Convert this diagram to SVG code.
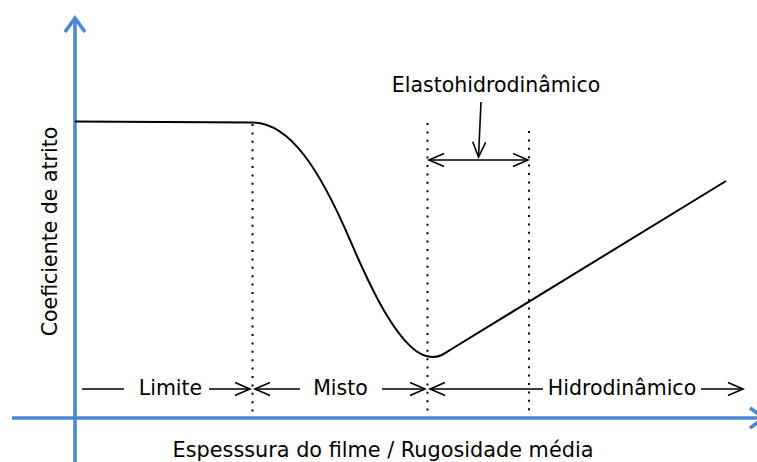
<svg xmlns="http://www.w3.org/2000/svg" width="757" height="462" viewBox="0 0 757 462">
  <style>
    .axis { stroke: #4a88d2; stroke-width: 3.6; fill: none; }
    .curve { stroke: #000; stroke-width: 2; fill: none; stroke-linejoin: round; }
    .dot { stroke: #000; stroke-width: 2; stroke-dasharray: 2 6.4; fill: none; }
    .arr { stroke: #000; stroke-width: 1.6; fill: none; }
    .lbl { font-family: "DejaVu Sans", Verdana, sans-serif; font-size: 20.5px; fill: #000; }
  </style>
  <defs>
    <marker id="head" markerUnits="userSpaceOnUse" markerWidth="20" markerHeight="16" viewBox="-18 -8 20 16" refX="0" refY="0" orient="auto" overflow="visible">
      <path d="M-15,-6.5 L0,0 L-15,6.5" fill="none" stroke="#000" stroke-width="1.6"/>
    </marker>
  </defs>

  <g id="axes">
    <path class="axis" d="M75,462 V19"/>
    <path class="axis" d="M65,32 L75,18 L85,32"/>
    <path class="axis" d="M12,418 H764"/>
    <path class="axis" d="M750,408 L764,418 L750,428"/>
  </g>

  <g id="dividers">
    <path class="dot" d="M252.5,124 V416"/>
    <path class="dot" d="M427.5,123 V416"/>
    <path class="dot" d="M529,131 V416"/>
  </g>

  <g id="friction-curve">
    <path class="curve" d="M75,121.5 L252,122.5 C290,122.5 320,170 350,240 C365,275 400,357 432,357 C440,357 444,354 450,350 L726,181"/>
  </g>

  <g id="connectors">
    <line class="arr" x1="82" y1="389" x2="124" y2="389"/>
    <line class="arr" x1="209" y1="389" x2="250" y2="389" marker-end="url(#head)"/>
    <line class="arr" x1="300" y1="389" x2="255" y2="389" marker-end="url(#head)"/>
    <line class="arr" x1="382" y1="389" x2="425" y2="389" marker-end="url(#head)"/>
    <line class="arr" x1="543" y1="389" x2="430" y2="389" marker-end="url(#head)"/>
    <line class="arr" x1="701" y1="389" x2="743" y2="389" marker-end="url(#head)"/>
    <line class="arr" x1="481" y1="102" x2="478.5" y2="157" marker-end="url(#head)"/>
    <line class="arr" x1="429" y1="160" x2="528" y2="160" marker-end="url(#head)"/>
    <path class="arr" d="M444,153.5 L429,160 L444,166.5"/>
  </g>

  <g id="label-limite"><text class="lbl" x="170.5" y="395" text-anchor="middle">Limite</text></g>
  <g id="label-misto"><text class="lbl" x="340.5" y="395" text-anchor="middle">Misto</text></g>
  <g id="label-hidro"><text class="lbl" x="622" y="395" text-anchor="middle">Hidrodinâmico</text></g>
  <g id="label-ehl"><text class="lbl" x="496" y="92" text-anchor="middle">Elastohidrodinâmico</text></g>
  <g id="label-x"><text class="lbl" x="383" y="457" text-anchor="middle" style="font-size:20.8px">Espesssura do filme / Rugosidade média</text></g>
  <g id="label-y"><text class="lbl" transform="translate(57,231.5) rotate(-90)" text-anchor="middle">Coeficiente de atrito</text></g>
</svg>
